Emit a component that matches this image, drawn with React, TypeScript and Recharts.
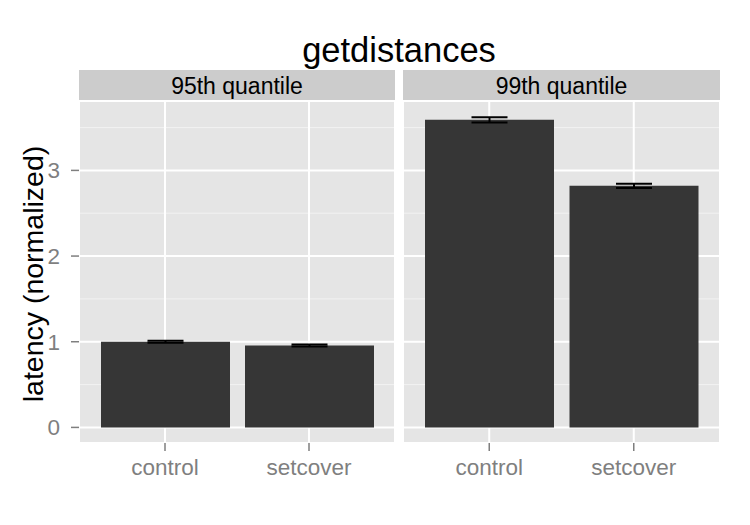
import React from "react"
import { Bar, BarChart, CartesianGrid, ErrorBar, XAxis, YAxis } from "recharts"

const categories = ["control", "setcover"]
const quantiles = ["95th quantile", "99th quantile"]
const latency95 = [1.0, 0.955]
const error95 = [0.012, 0.012]
const latency99 = [3.59, 2.82]
const error99 = [0.03, 0.025]
const majorTicks = [0, 1, 2, 3]
const minorTicks = [0.5, 1.5, 2.5, 3.5]

const FONT = "'Liberation Sans', Arial, Helvetica, sans-serif"
const DOMAIN: [number, number] = [-0.182, 3.81]

const panels = [
  { label: quantiles[0], data: categories.map((name, i) => ({ name, value: latency95[i], err: error95[i] })) },
  { label: quantiles[1], data: categories.map((name, i) => ({ name, value: latency99[i], err: error99[i] })) },
]

function Panel({ data, showY, width }: { data: any[]; showY: boolean; width: number }) {
  return (
    <BarChart width={width} height={525} data={data} margin={{ top: 101, right: 0, left: 0, bottom: 0 }}>
      <CartesianGrid yAxisId="minor" vertical={false} stroke="#F2F2F2" strokeWidth={1} fill="#E5E5E5" />
      <CartesianGrid stroke="#FFFFFF" strokeWidth={2} />
      <XAxis
        dataKey="name"
        padding={{ left: 14, right: 14 }}
        axisLine={false}
        tickSize={8}
        tickMargin={8}
        tickLine={{ stroke: "#7F7F7F", strokeWidth: 1.5 }}
        tick={{ fill: "#7F7F7F", fontSize: 22.5, fontFamily: FONT }}
        height={82}
      />
      <YAxis yAxisId="minor" type="number" domain={DOMAIN} ticks={minorTicks} allowDataOverflow hide />
      <YAxis
        type="number"
        domain={DOMAIN}
        ticks={majorTicks}
        allowDataOverflow
        hide={!showY}
        width={79}
        axisLine={false}
        tickSize={8}
        tickMargin={11}
        tickLine={{ stroke: "#7F7F7F", strokeWidth: 1.5 }}
        tick={{ fill: "#7F7F7F", fontSize: 22.5, fontFamily: FONT }}
      />
      <Bar dataKey="value" fill="#363636" barSize={129} isAnimationActive={false}>
        <ErrorBar dataKey="err" direction="y" width={18} stroke="#000000" strokeWidth={2} />
      </Bar>
    </BarChart>
  )
}

export default function App() {
  return (
    <div style={{ position: "absolute", left: 0, top: 0, width: 750, height: 525, background: "#fff", fontFamily: FONT }}>
      <svg width={750} height={525} style={{ position: "absolute", left: 0, top: 0 }}>
        <text x={399} y={62} textAnchor="middle" fontSize={34.5} fill="#000" fontFamily={FONT}>
          getdistances
        </text>
        <text x={0} y={0} transform="translate(43,274) rotate(-90)" textAnchor="middle" fontSize={28.5} fill="#000" fontFamily={FONT}>
          latency (normalized)
        </text>
        <rect x={79} y={70} width={316} height={31} fill="#CCCCCC" />
        <rect x={403} y={70} width={317} height={31} fill="#CCCCCC" />
        <text x={237} y={94} textAnchor="middle" fontSize={23} fill="#000" fontFamily={FONT}>
          {panels[0].label}
        </text>
        <text x={561.5} y={94} textAnchor="middle" fontSize={23} fill="#000" fontFamily={FONT}>
          {panels[1].label}
        </text>
      </svg>
      <div style={{ position: "absolute", left: 0, top: 0 }}>
        <Panel data={panels[0].data} showY width={395} />
      </div>
      <div style={{ position: "absolute", left: 403, top: 0 }}>
        <Panel data={panels[1].data} showY={false} width={317} />
      </div>
    </div>
  )
}
